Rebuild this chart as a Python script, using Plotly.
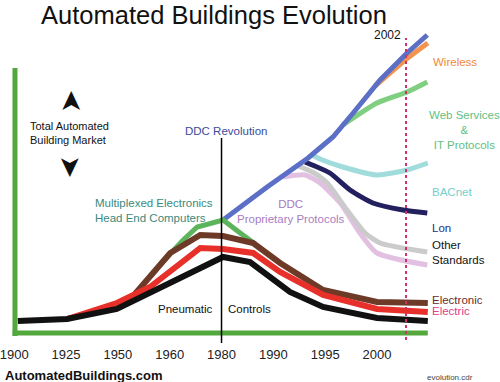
import plotly.graph_objects as go

# ---- data (x = position on the era axis, y = relative market size) ----
tick_labels = ["1900", "1925", "1950", "1960", "1980", "1990", "1995", "2000"]
tick_pos = [0, 1, 2, 3, 4, 5, 6, 7]
revolution_pos = 4        # 1980
year2002_pos = 7.56

pneumatic_x = [0.07, 1.02, 1.98, 4.03, 4.55, 5.32, 5.96, 7.00, 7.98]
pneumatic_y = [12, 14, 24, 76, 71, 41, 26, 15, 12]
electric_x = [1.02, 1.33, 1.98, 2.62, 3.20, 3.59, 4.03, 4.61, 5.13, 5.96, 7.00, 7.98]
electric_y = [14, 19, 30, 46, 70, 85, 84, 80, 61, 38, 24, 21]
electronic_x = [2.33, 3.01, 3.59, 4.03, 4.61, 5.13, 5.96, 7.00, 7.98]
electronic_y = [39, 80, 98, 97, 90, 70, 43, 31, 30]
multiplexed_x = [2.81, 3.26, 3.53, 4.03, 4.36, 4.65]
multiplexed_y = [68, 93, 106, 113, 100, 89]
ddc_x = [4.03, 4.88, 5.67, 6.15, 6.54, 7.06, 7.58, 7.97]
ddc_y = [113, 146, 175, 196, 220, 253, 280, 298]
wireless_x = [6.96, 7.54, 7.98]
wireless_y = [247, 273, 290]
web_x = [6.34, 7.00, 7.58, 7.97]
web_y = [208, 230, 241, 251]
bacnet_x = [5.75, 5.90, 6.34, 7.00, 7.58, 7.98]
bacnet_y = [178, 174, 166, 158, 163, 170]
lon_x = [5.61, 6.09, 6.48, 6.92, 7.50, 7.97]
lon_y = [171, 160, 143, 130, 123, 120]
other_x = [5.48, 5.75, 6.04, 6.42, 6.77, 7.06, 7.97]
other_y = [167, 161, 150, 123, 100, 90, 81]
proprietary_x = [5.19, 5.61, 5.90, 6.29, 6.67, 7.00, 7.97]
proprietary_y = [156, 158, 150, 130, 100, 80, 68]

W, H = 500, 382
MB = 37
PH = H - MB
FONT = "Liberation Sans, Arial, sans-serif"


def px2x(px):
    return px / W


def py2y(py):
    return (PH - py) / PH


fig = go.Figure()


def add_line(x, y, color, width, shape="linear"):
    fig.add_trace(go.Scatter(x=x, y=y, mode="lines",
                             line=dict(color=color, width=width, shape=shape, smoothing=0.6),
                             hoverinfo="skip", showlegend=False))


# draw order (bottom -> top)
add_line(proprietary_x, proprietary_y, "#e2c0e2", 5, "spline")
add_line(other_x, other_y, "#cbcbcb", 5, "spline")
add_line(bacnet_x, bacnet_y, "#a0dcdc", 5, "spline")
add_line(lon_x, lon_y, "#23205f", 5, "spline")
add_line(wireless_x, wireless_y, "#f2944e", 5)
add_line(web_x, web_y, "#80cf80", 5, "spline")
add_line(ddc_x, ddc_y, "#5c6fc6", 5)
add_line(multiplexed_x, multiplexed_y, "#5cb55c", 5)
add_line(electronic_x, electronic_y, "#6e3a28", 6)
add_line(electric_x, electric_y, "#e8302a", 6)
add_line(pneumatic_x, pneumatic_y, "#111111", 6)

green = "#52a83c"
shapes = [
    dict(type="line", xref="x", yref="y", x0=0.015, x1=0.015, y0=-3, y1=265,
         line=dict(color=green, width=5), layer="below"),
    dict(type="line", xref="x", yref="y", x0=-0.03, x1=7.98, y0=0, y1=0,
         line=dict(color=green, width=5), layer="below"),
    dict(type="line", xref="x", yref="y", x0=revolution_pos, x1=revolution_pos, y0=-10, y1=195,
         line=dict(color="#000000", width=1.5), layer="above"),
    dict(type="line", xref="x", yref="y", x0=year2002_pos, x1=year2002_pos, y0=-7, y1=295,
         line=dict(color="#d0306a", width=2, dash="dot"), layer="above"),
]


def ann(text, px, py, size=11.5, color="#111111", xanchor="left", align="left", **kw):
    return dict(text=text, x=px2x(px), y=py2y(py), xref="paper", yref="paper",
                xanchor=xanchor, yanchor="middle", align=align, showarrow=False,
                font=dict(family=FONT, size=size, color=color), **kw)


annotations = [
    ann("Automated Buildings Evolution", 39, 14.5, size=25.5, color="#111111"),
    ann("2002", 403, 35, size=12, xanchor="right", align="right"),
    ann("Wireless", 431, 62, color="#f0883a"),
    ann("Web Services<br>&<br>IT Protocols", 464, 130, color="#62c084", xanchor="center", align="center"),
    ann("BACnet", 430, 192, color="#72cfcf"),
    ann("Lon", 430, 228, color="#2a2a7a"),
    ann("Other<br>Standards", 430, 252),
    ann("Electronic", 430, 300, color="#6b2b2b"),
    ann("Electric", 430, 311, color="#e03c8c"),
    ann("DDC Revolution", 183, 131, color="#3b4b9b"),
    ann("Multiplexed Electronics<br>Head End Computers", 93, 210, color="#3a8a7e"),
    ann("DDC<br>Proprietary Protocols", 291, 212, color="#a97cbf", xanchor="center", align="center"),
    ann("Pneumatic", 185, 309, xanchor="center"),
    ann("Controls", 249, 309, xanchor="center"),
    ann("Total Automated<br>Building Market", 28, 133, size=11),
    ann("➤", 71, 102, size=28, xanchor="center", textangle=-90),
    ann("➤", 71, 166, size=28, xanchor="center", textangle=90),
    ann("<b>AutomatedBuildings.com</b>", 3, 375, size=13),
    ann("evolution.cdr", 425, 378, size=8, color="#444444"),
]

fig.update_layout(
    width=W, height=H,
    margin=dict(l=0, r=0, t=0, b=MB),
    paper_bgcolor="white", plot_bgcolor="white",
    font=dict(family=FONT, color="#111111"),
    xaxis=dict(range=[-0.274, 9.373], tickvals=tick_pos, ticktext=tick_labels,
               showgrid=False, zeroline=False, showline=False, ticks="",
               ticklabeloverflow="allow",
               tickfont=dict(size=13, color="#222222"), fixedrange=True),
    yaxis=dict(range=[-12, 333], visible=False, showgrid=False, zeroline=False, fixedrange=True),
    shapes=shapes,
    annotations=annotations,
    showlegend=False,
)

fig.write_html("out.html", config={"displayModeBar": False},
               post_script="document.body.style.margin='0';document.body.style.overflow='hidden';")
